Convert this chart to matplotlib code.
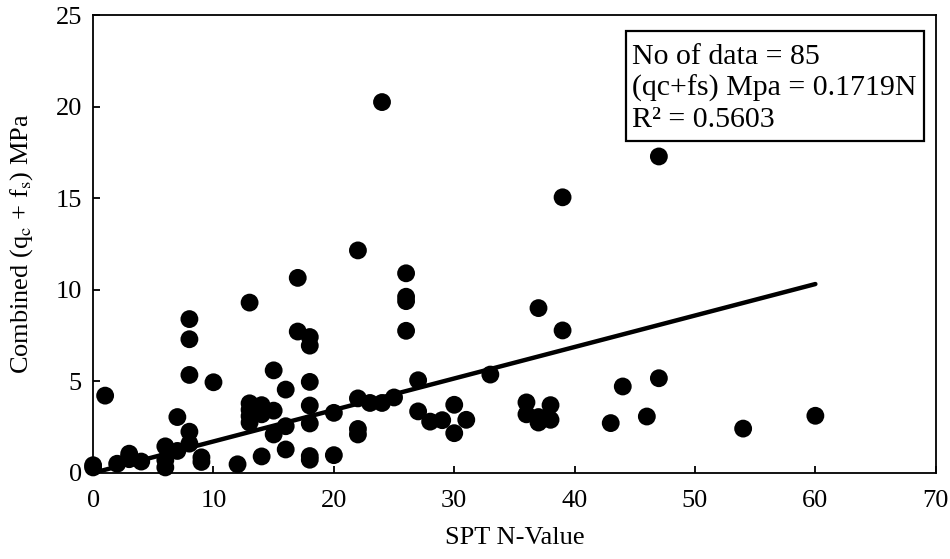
import numpy as np
import matplotlib
matplotlib.use("Agg")
import matplotlib.pyplot as plt
from matplotlib.patches import Rectangle

plt.rcParams['font.family'] = ['Liberation Serif', 'DejaVu Serif']
plt.rcParams['mathtext.fontset'] = 'stix'

# SPT N-value and combined (qc + fs) in MPa
spt_n = [0, 0, 1, 2, 3, 3, 3, 4, 6, 6, 6, 7, 7,
         8, 8, 8, 8, 8, 9, 9, 10, 12,
         13, 13, 13, 13, 13, 14, 14, 14, 14, 15, 15, 15,
         16, 16, 16, 17, 17, 18, 18, 18, 18, 18, 18, 18,
         20, 20, 22, 22, 22, 22, 23, 24, 24, 25,
         26, 26, 26, 26, 27, 27, 28, 29, 30, 30, 31, 33,
         36, 36, 37, 37, 37, 37, 38, 38, 39, 39,
         43, 44, 46, 47, 47, 54, 60]
qc_fs = [0.42, 0.3, 4.22, 0.5, 1.05, 0.75, 0.9, 0.62, 1.45, 0.7, 0.3, 3.05, 1.2,
         8.4, 7.3, 5.35, 2.25, 1.6, 0.85, 0.6, 4.95, 0.47,
         9.3, 3.8, 3.45, 3.1, 2.75, 3.7, 3.45, 3.2, 0.9, 5.6, 3.4, 2.1,
         4.55, 2.55, 1.28, 10.65, 7.72, 7.42, 6.95, 4.97, 3.68, 2.7, 0.92, 0.72,
         3.28, 0.97, 12.15, 4.07, 2.4, 2.1, 3.82, 20.25, 3.82, 4.12,
         10.9, 9.62, 9.38, 7.76, 5.06, 3.36, 2.8, 2.88, 3.72, 2.17, 2.9, 5.37,
         3.85, 3.2, 9.0, 3.05, 2.95, 2.75, 3.7, 2.9, 15.05, 7.78,
         2.72, 4.72, 3.08, 17.28, 5.17, 2.42, 3.12]

slope = 0.1719
r2 = 0.5603
n_fit = np.array([0, 60])

fig = plt.figure(figsize=(9.5, 5.59), dpi=100)
ax = fig.add_axes([0.098, 0.154, 0.887, 0.819])

ax.scatter(spt_n, qc_fs, s=165, c='black', edgecolors='none', zorder=3, clip_on=False)
ax.plot(n_fit, slope * n_fit, color='black', lw=3.2, solid_capstyle='round', zorder=4)

ax.set_xlim(0, 70)
ax.set_ylim(0, 25)
ax.set_xticks(range(0, 71, 10))
ax.set_yticks(range(0, 26, 5))
ax.tick_params(direction='in', length=5, width=1.3, labelsize=19,
               top=False, right=False)
ax.tick_params(axis='x', pad=12)
ax.tick_params(axis='y', pad=8)
for sp in ax.spines.values():
    sp.set_linewidth(1.3)

ax.set_xlabel('SPT N-Value', fontsize=19, labelpad=11)
ax.set_ylabel(r'Combined (q$_\mathrm{c}$ + f$_\mathrm{s}$) MPa', fontsize=19, labelpad=15)

# equation box
ax.add_patch(Rectangle((0.633, 0.725), 0.353, 0.24, transform=ax.transAxes,
                       fc='white', ec='black', lw=1.6, zorder=5))
box_text = f'No of data = {len(spt_n)}\n(qc+fs) Mpa = {slope}N\nR² = {r2}'
ax.text(0.639, 0.936, box_text, transform=ax.transAxes, ha='left', va='top',
        fontsize=21.5, linespacing=1.22, zorder=6)

fig.savefig('out.png', dpi=100)
